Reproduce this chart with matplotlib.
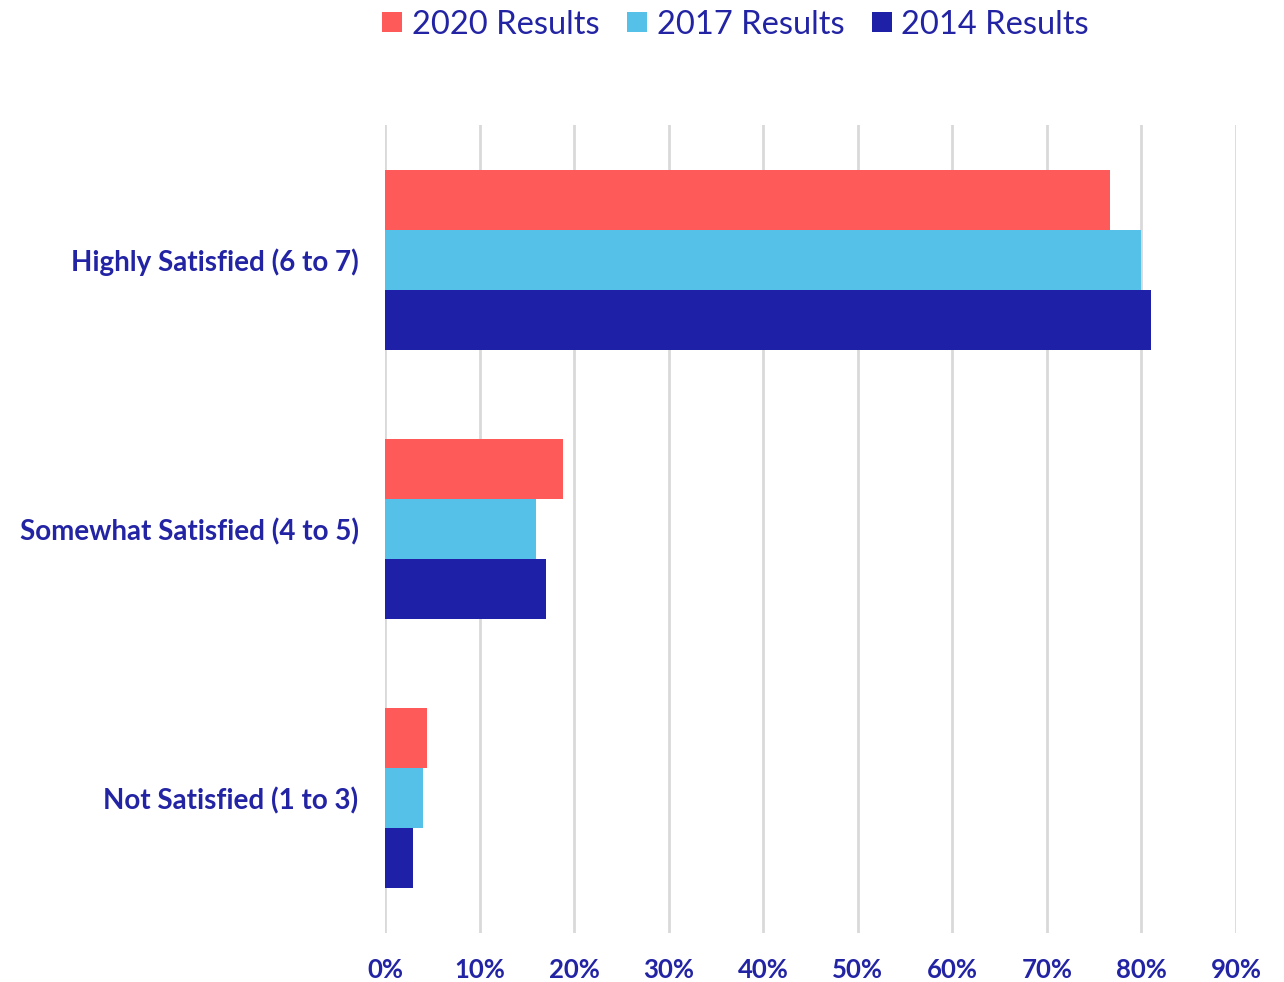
import numpy as np
import matplotlib
matplotlib.use("Agg")
import matplotlib.pyplot as plt
from matplotlib.patches import Patch

# Survey satisfaction shares (%)
categories = ['Highly Satisfied (6 to 7)', 'Somewhat Satisfied (4 to 5)', 'Not Satisfied (1 to 3)']
series_names = ['2020 Results', '2017 Results', '2014 Results']
results_2020 = [76.7, 18.8, 4.4]
results_2017 = [80.0, 16.0, 4.0]
results_2014 = [81.0, 17.0, 3.0]
x_ticks = [0, 10, 20, 30, 40, 50, 60, 70, 80, 90]

colors = ['#FF5A5A', '#55C1E8', '#1E21A8']
text_color = '#2324A4'

plt.rcParams['font.family'] = ['Lato', 'DejaVu Sans']

fig = plt.figure(figsize=(12.84, 9.82), dpi=100)
ax = fig.add_axes([0.2998, 0.0499, 0.6628, 0.8228])

y = np.arange(len(categories))
h = 0.2226
for i, (vals, c) in enumerate(zip([results_2020, results_2017, results_2014], colors)):
    ax.barh(y + (i - 1) * h, vals, height=h, color=c, zorder=3)

ax.set_xlim(0, 90)
ax.set_ylim(2.5, -0.5)
ax.set_xticks(x_ticks)
ax.set_xticklabels([f'{t}%' for t in x_ticks])
ax.set_yticks(y)
ax.set_yticklabels(categories)
ax.grid(axis='x', color='#D9D9D9', linewidth=2, zorder=0)
for s in ax.spines.values():
    s.set_visible(False)
ax.tick_params(axis='both', length=0, colors=text_color)
ax.tick_params(axis='x', pad=18, labelsize=18.5)
ax.tick_params(axis='y', pad=19, labelsize=20)
for lbl in ax.get_xticklabels() + ax.get_yticklabels():
    lbl.set_fontweight('bold')

handles = [Patch(facecolor=c, edgecolor='none') for c in colors]
leg = fig.legend(handles, series_names, loc='center', bbox_to_anchor=(0.573, 0.975),
                 ncol=3, frameon=False, fontsize=23.5, handlelength=0.6, handleheight=0.6,
                 handletextpad=0.3, columnspacing=0.85)
for t in leg.get_texts():
    t.set_color(text_color)

fig.savefig('out.png', dpi=100)
